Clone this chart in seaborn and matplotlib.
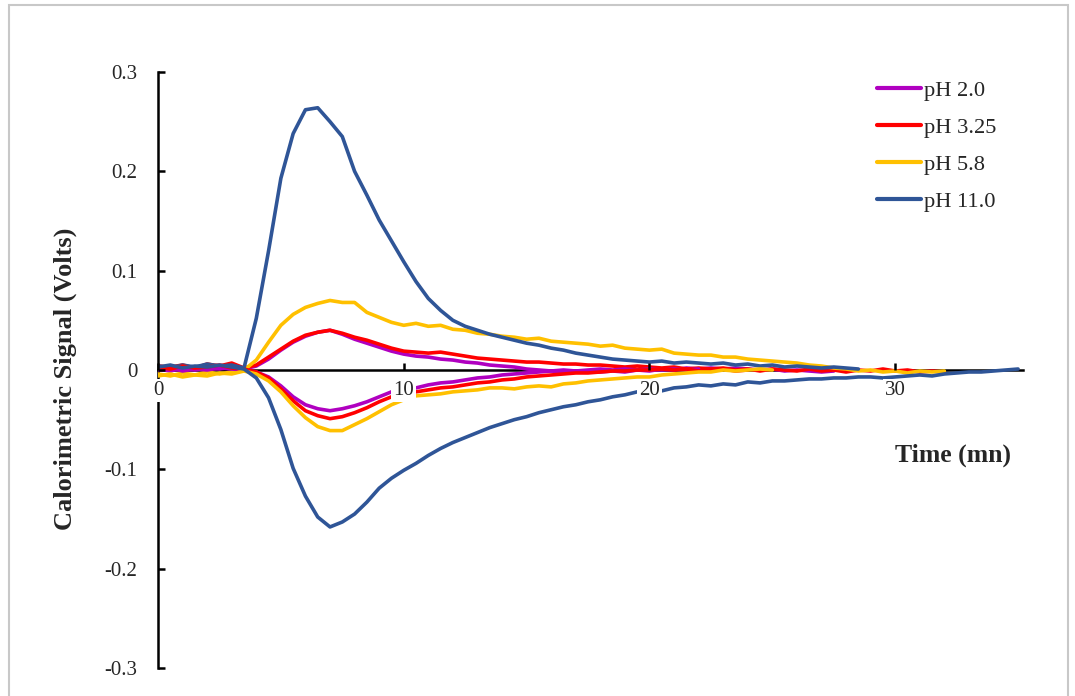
import numpy as np
import pandas as pd
import matplotlib
matplotlib.use("Agg")
import matplotlib.pyplot as plt
from matplotlib.patches import Rectangle
import seaborn as sns

# Calorimetric signal (V) sampled every 0.5 min, two runs per pH
ph_labels = ["pH 2.0", "pH 3.25", "pH 5.8", "pH 11.0"]
ph_colors = ["#B000C0", "#FF0000", "#FFC000", "#2F5597"]

ph2_up = [0.001, -0.001, 0.002, 0.000, 0.002, 0.001, 0.003, 0.001, 0.004, 0.011,
          0.020, 0.028, 0.034, 0.038, 0.040, 0.036, 0.031, 0.027, 0.023, 0.019,
          0.016, 0.014, 0.013, 0.011, 0.010, 0.008, 0.007, 0.005, 0.004, 0.003,
          0.001, 0.000, -0.001, -0.002, -0.001, -0.002, -0.002, -0.001, -0.002, 0.000,
          -0.001, 0.001, 0.000, 0.002, 0.001, 0.002, 0.001, 0.002, 0.001, 0.000,
          0.001, -0.001, 0.000, -0.001, -0.002, -0.001]
ph2_down = [0.000, 0.002, -0.001, 0.001, 0.000, 0.002, 0.001, 0.000, -0.002, -0.007,
            -0.016, -0.027, -0.035, -0.039, -0.041, -0.039, -0.036, -0.032, -0.027, -0.022,
            -0.020, -0.018, -0.015, -0.013, -0.012, -0.010, -0.008, -0.007, -0.005, -0.004,
            -0.003, -0.002, -0.001, 0.000, -0.001, 0.000, 0.001, 0.000, 0.001, 0.000,
            0.001, 0.000, 0.001, 0.000, 0.001]

ph325_up = [0.004, 0.003, 0.005, 0.002, 0.006, 0.004, 0.007, 0.002, 0.005, 0.013,
            0.021, 0.029, 0.035, 0.038, 0.040, 0.037, 0.033, 0.030, 0.026, 0.022,
            0.019, 0.018, 0.017, 0.018, 0.016, 0.014, 0.012, 0.011, 0.010, 0.009,
            0.008, 0.008, 0.007, 0.006, 0.006, 0.005, 0.005, 0.004, 0.003, 0.004,
            0.003, 0.002, 0.003, 0.001, 0.002, 0.001, 0.002, 0.000, 0.001, -0.001,
            0.001, 0.000, -0.001, 0.001, -0.001, 0.000, -0.002, 0.000, -0.001, 0.001,
            -0.001, 0.000, -0.002, -0.001, -0.002]
ph325_down = [0.003, 0.001, 0.004, 0.002, 0.003, 0.005, 0.002, 0.001, -0.002, -0.008,
              -0.019, -0.031, -0.041, -0.046, -0.049, -0.047, -0.043, -0.038, -0.032, -0.027,
              -0.024, -0.022, -0.020, -0.018, -0.017, -0.015, -0.013, -0.012, -0.010, -0.009,
              -0.007, -0.006, -0.005, -0.004, -0.003, -0.003, -0.002, -0.001, -0.001, 0.000,
              0.000, 0.001, 0.000, 0.001, -0.001, 0.000, 0.001, -0.001, 0.000]

ph58_up = [-0.004, -0.006, -0.003, -0.005, -0.002, -0.004, -0.002, 0.000, 0.010, 0.028,
           0.045, 0.056, 0.063, 0.067, 0.070, 0.068, 0.068, 0.058, 0.053, 0.048,
           0.045, 0.047, 0.044, 0.045, 0.041, 0.040, 0.037, 0.036, 0.034, 0.033,
           0.031, 0.032, 0.029, 0.028, 0.027, 0.026, 0.024, 0.025, 0.022, 0.021,
           0.020, 0.021, 0.017, 0.016, 0.015, 0.015, 0.013, 0.013, 0.011, 0.010,
           0.009, 0.008, 0.007, 0.005, 0.004, 0.002, 0.001, -0.001, 0.000, -0.002,
           -0.001, -0.003, -0.001, -0.002, -0.001]
ph58_down = [-0.006, -0.004, -0.007, -0.005, -0.006, -0.003, -0.004, -0.001, -0.004, -0.011,
             -0.022, -0.036, -0.048, -0.057, -0.061, -0.061, -0.055, -0.049, -0.042, -0.035,
             -0.030, -0.026, -0.025, -0.024, -0.022, -0.021, -0.020, -0.018, -0.018, -0.019,
             -0.017, -0.016, -0.017, -0.014, -0.013, -0.011, -0.010, -0.009, -0.008, -0.007,
             -0.007, -0.005, -0.004, -0.003, -0.002, -0.002, 0.000, -0.001, 0.000, 0.001,
             0.000]

ph11_up = [0.004, 0.002, 0.005, 0.003, 0.006, 0.004, 0.005, 0.002, 0.052, 0.120,
           0.193, 0.238, 0.262, 0.264, 0.250, 0.235, 0.200, 0.176, 0.151, 0.130,
           0.109, 0.089, 0.072, 0.060, 0.050, 0.044, 0.040, 0.036, 0.033, 0.030,
           0.027, 0.025, 0.022, 0.020, 0.017, 0.015, 0.013, 0.011, 0.010, 0.009,
           0.008, 0.009, 0.007, 0.008, 0.007, 0.006, 0.007, 0.005, 0.006, 0.004,
           0.005, 0.003, 0.004, 0.003, 0.002, 0.003, 0.002, 0.001]
ph11_down = [0.003, 0.005, 0.002, 0.004, 0.003, 0.005, 0.003, 0.001, -0.008, -0.028,
             -0.060, -0.099, -0.127, -0.148, -0.158, -0.153, -0.145, -0.133, -0.119, -0.109,
             -0.101, -0.094, -0.086, -0.079, -0.073, -0.068, -0.063, -0.058, -0.054, -0.050,
             -0.047, -0.043, -0.040, -0.037, -0.035, -0.032, -0.030, -0.027, -0.025, -0.022,
             -0.020, -0.021, -0.018, -0.017, -0.015, -0.016, -0.014, -0.015, -0.012, -0.013,
             -0.011, -0.011, -0.010, -0.009, -0.009, -0.008, -0.008, -0.007, -0.007, -0.008,
             -0.007, -0.006, -0.005, -0.006, -0.004, -0.003, -0.002, -0.002, -0.001, 0.000,
             0.001]

runs = [
    ("pH 2.0", ph2_up), ("pH 3.25", ph325_up), ("pH 5.8", ph58_up), ("pH 11.0", ph11_up),
    ("pH 2.0", ph2_down), ("pH 3.25", ph325_down), ("pH 5.8", ph58_down), ("pH 11.0", ph11_down),
]

x_ticks = [0, 10, 20, 30]
x_tick_labels = ["0", "10", "20", "30"]
y_ticks = [-0.3, -0.2, -0.1, 0.0, 0.1, 0.2, 0.3]
y_tick_labels = ["-0.3", "-0.2", "-0.1", "0", "0.1", "0.2", "0.3"]

sns.set_theme(style="white")
plt.rcParams["font.family"] = ["Liberation Serif", "DejaVu Serif"]

fig = plt.figure(figsize=(10.75, 6.96), dpi=100)
ax = fig.add_axes([158 / 1075, 1 - 668 / 696, (1023 - 158) / 1075, (668 - 72) / 696])

color_of = dict(zip(ph_labels, ph_colors))
for label, values in runs:
    df = pd.DataFrame({"t": np.arange(len(values)) * 0.5, "v": values})
    sns.lineplot(data=df, x="t", y="v", ax=ax, color=color_of[label], lw=2.6,
                 legend=False, zorder=2.6)

ax.set_xlim(0, 35.2)
ax.set_ylim(-0.3, 0.3)
ax.set_xlabel("")
ax.set_ylabel("")

for side in ["top", "right"]:
    ax.spines[side].set_visible(False)
ax.spines["left"].set_position(("data", 0))
ax.spines["bottom"].set_position(("data", 0))
for side in ["left", "bottom"]:
    ax.spines[side].set_color("black")
    ax.spines[side].set_linewidth(1.8)
    ax.spines[side].set_zorder(2.5)

ax.set_xticks(x_ticks)
ax.set_xticklabels(x_tick_labels)
ax.set_yticks(y_ticks)
ax.set_yticklabels(y_tick_labels)
ax.tick_params(axis="x", direction="in", length=5, width=1.8, color="black",
               labelsize=15, pad=8, bottom=True)
ax.tick_params(axis="y", direction="in", length=5, width=1.8, color="black",
               labelsize=15, pad=15, left=True)
for lab in ax.get_xticklabels() + ax.get_yticklabels():
    lab.set_bbox(dict(facecolor="white", edgecolor="none", pad=1.5))
ax.xaxis.set_zorder(2.8)
ax.yaxis.set_zorder(2.8)
ax.grid(False)

fig.text(65 / 1075, 1 - 379 / 696, "Calorimetric Signal (Volts)", rotation=90,
         ha="center", va="center", fontsize=19, fontweight="bold")
fig.text(953 / 1075, 1 - 455 / 696, "Time (mn)", ha="center", va="center",
         fontsize=18.5, fontweight="bold")

handles = [plt.Line2D([], [], color=c, lw=3) for c in ph_colors]
fig.legend(handles, ph_labels, loc="upper left",
           bbox_to_anchor=(877 / 1075, 1 - 80 / 696), frameon=False,
           fontsize=16.2, handlelength=1.95, handletextpad=0.12, labelspacing=0.72,
           borderaxespad=0, borderpad=0)

fig.patches.append(Rectangle((9 / 1075, -0.02), (1068 - 9) / 1075, 1.02 - 5 / 696,
                             transform=fig.transFigure, fill=False,
                             edgecolor="#C8C8C8", lw=1.5))

fig.savefig("out.png", dpi=100, facecolor="white")
